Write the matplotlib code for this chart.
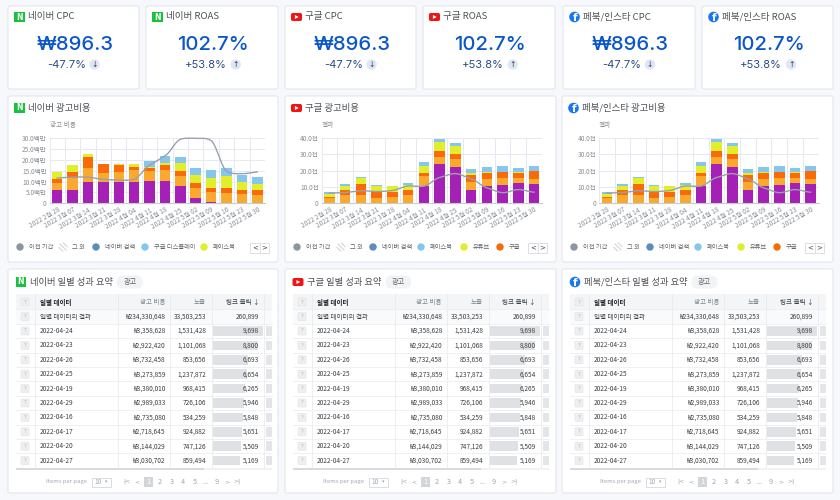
import numpy as np
import matplotlib
matplotlib.use("Agg")
import matplotlib.pyplot as plt
from matplotlib.patches import FancyBboxPatch, Rectangle, Circle, Polygon

plt.rcParams['font.family'] = ['Noto Sans CJK KR', 'DejaVu Sans']

# ---------- data ----------
weeks = ['2022 2월 28', '2022 3월 07', '2022 3월 14', '2022 3월 21', '2022 3월 28', '2022 4월 04', '2022 4월 11',
         '2022 4월 18', '2022 4월 25', '2022 5월 02', '2022 5월 09', '2022 5월 16', '2022 5월 23', '2022 5월 30']

naver_purple = [6.2, 6.2, 9.7, 9.6, 9.6, 10.0, 10.1, 10.4, 7.8, 2.6, 0.7, 0, 0, 0]
naver_orange = [3.3, 5.5, 6.5, 4.4, 4.7, 5.3, 4.7, 4.7, 4.7, 4.5, 4.6, 4.9, 4.1, 3.9]
naver_deep = [1.7, 2.8, 5.0, 4.0, 3.4, 1.6, 1.2, 2.5, 2.3, 2.4, 1.9, 2.2, 2.2, 2.2]
naver_lime = [3.2, 3.2, 1.5, 0.0, 0.3, 1.0, 0.9, 0.8, 3.5, 3.6, 4.5, 5.3, 3.7, 2.8]
naver_blue = [0, 0, 0, 0, 0, 0, 2.7, 3.3, 3.0, 3.3, 3.6, 3.6, 3.2, 3.2]
naver_prev = [11.6, 12.1, 12.0, 11.0, 10.6, 11.0, 17.5, 21.8, 29.4, 29.8, 28.8, 14.8, 13.6, 14.4]

google_purple = [0, 0, 0, 0, 0, 0, 10.8, 24.0, 22.4, 8.4, 10.7, 11.2, 12.7, 12.0]
google_orange = [3.0, 4.9, 5.1, 3.4, 3.9, 5.2, 6.0, 4.5, 5.0, 4.8, 4.3, 4.4, 3.1, 3.1]
google_deep = [0.6, 3.4, 6.8, 3.6, 3.1, 3.0, 1.8, 3.7, 3.1, 4.3, 3.7, 3.5, 3.0, 4.7]
google_lime = [1.9, 2.4, 3.5, 3.6, 3.3, 3.1, 4.4, 5.4, 4.4, 1.1, 0.3, 0.1, 0.2, 0.2]
google_blue = [1.3, 1.1, 0.7, 0.7, 0.4, 1.1, 2.0, 1.8, 2.3, 2.4, 3.3, 3.6, 2.7, 2.6]
google_prev = [6.3, 6.6, 7.7, 7.2, 7.8, 10.6, 10.5, 15.8, 18.2, 15.0, 9.5, 6.5, 8.4, 6.8]

naver_ticks = [0, 5, 10, 15, 20, 25, 30]
naver_ticklabels = ['0', '5.0백만', '10.0백만', '15.0백만', '20.0백만', '25.0백만', '30.0백만']
google_ticks = [0, 10, 20, 30, 40]
google_ticklabels = ['0', '10.0천', '20.0천', '30.0천', '40.0천']

dates = ['2022-04-24', '2022-04-23', '2022-04-26', '2022-04-25', '2022-04-19',
         '2022-04-29', '2022-04-16', '2022-04-17', '2022-04-20', '2022-04-27']
costs = [3358628, 2922420, 3732458, 3273859, 3380010, 2989033, 2735080, 2718645, 3144029, 3030702]
imps = [1531428, 1101068, 853656, 1237872, 968415, 726106, 534259, 924882, 747126, 859494]
clicks = [9698, 8800, 6693, 6654, 6265, 5946, 5848, 5651, 5509, 5169]
total_cost, total_imps, total_clicks = 234330648, 33503253, 260899

kpi_value_cpc, kpi_delta_cpc = '₩896.3', '-47.7%'
kpi_value_roas, kpi_delta_roas = '102.7%', '+53.8%'

legend_naver = ['이전 기간', '그 외', '네이버 검색', '구글 디스플레이', '페이스북']
legend_other = ['이전 기간', '그 외', '네이버 검색', '페이스북', '유튜브', '구글']

# ---------- colours ----------
PURPLE, ORANGE, DEEP, LIME, BLUE = '#a520b4', '#f8a92e', '#fb6a09', '#e0ee2c', '#85c6ee'
GRAY_LINE = '#9aa0ac'
BG = '#f7f8fb'
CARD_EDGE = '#e3e6ec'
TXT = '#4d5257'
INTER = ['Inter', 'Noto Sans CJK KR', 'DejaVu Sans']

fig = plt.figure(figsize=(8.4, 5.0), dpi=100, facecolor=BG)
px = fig.add_axes([0, 0, 1, 1], zorder=0)
px.set_xlim(0, 840)
px.set_ylim(500, 0)
px.axis('off')


def card(x0, y0, x1, y1):
    px.add_patch(FancyBboxPatch((x0, y0), x1 - x0, y1 - y0, boxstyle='round,pad=0,rounding_size=2',
                                fc='white', ec=CARD_EDGE, lw=0.8))


def icon(kind, x, y, s=1.0):
    if kind == 'naver':
        px.add_patch(Rectangle((x - 5.3 * s, y - 5.3 * s), 10.6 * s, 10.6 * s, fc='#19c23c', ec='none'))
        px.text(x, y, 'N', color='white', fontsize=5.6 * s, fontweight='bold', ha='center', va='center', family='DejaVu Sans')
    elif kind == 'google':
        px.add_patch(FancyBboxPatch((x - 5.5 * s, y - 4 * s), 11 * s, 8 * s,
                                    boxstyle=f'round,pad=0,rounding_size={1.8 * s}', fc='#f01414', ec='none'))
        px.add_patch(Polygon([(x - 1.6 * s, y - 2 * s), (x - 1.6 * s, y + 2 * s), (x + 2.2 * s, y)], fc='white', ec='none'))
    else:
        px.add_patch(Circle((x, y), 5.3 * s, fc='#1877f2', ec='none'))
        px.text(x + 0.4 * s, y + 0.8 * s, 'f', color='white', fontsize=7.5 * s, fontweight='bold', ha='center', va='center', family='DejaVu Sans')


def kpi(x0, x1, kind, name, value, delta, arrow, d_off, c_off):
    card(x0, 6, x1, 89)
    icon(kind, x0 + 11.5, 17, 1.0)
    px.text(x0 + 20, 17, name, fontsize=6.9, color=TXT, va='center', ha='left')
    cx = (x0 + x1) / 2 + 1
    px.text(cx, 45, value, fontsize=14.6, color='#0b57c9', ha='center', va='center', family=INTER, fontweight='medium')
    px.text(cx + d_off, 64.5, delta, fontsize=8.0, color='#2c4c80', ha='center', va='center', family=INTER)
    px.add_patch(Circle((cx + c_off, 64.5), 5.2, fc='#dfe6f4', ec='none'))
    px.text(cx + c_off, 64.5, arrow, fontsize=5.5, color='#33445f', ha='center', va='center', family='DejaVu Sans')


def smooth(x, y, n=16, k=0.3):
    # cubic Hermite curve through the read values, softened to limit overshoot
    x, y = np.asarray(x, float), np.asarray(y, float)
    m = np.r_[y[1] - y[0], y[2:] - y[:-2], y[-1] - y[-2]] * k
    xs, ys = [], []
    for i in range(len(x) - 1):
        t = np.linspace(0, 1, n, endpoint=False)
        h00, h10, h01, h11 = 2 * t ** 3 - 3 * t ** 2 + 1, t ** 3 - 2 * t ** 2 + t, -2 * t ** 3 + 3 * t ** 2, t ** 3 - t ** 2
        xs.extend(x[i] + t * (x[i + 1] - x[i]))
        ys.extend(h00 * y[i] + h10 * m[i] + h01 * y[i + 1] + h11 * m[i + 1])
    xs.append(x[-1])
    ys.append(y[-1])
    return xs, ys


def leg_cols(legend):
    m = {'구글 디스플레이': BLUE, '페이스북': LIME, '유튜브': LIME, '구글': DEEP}
    out = [m[n] for n in legend[3:]]
    if '유튜브' in legend:
        out[0] = BLUE
    return out


def chart(x0, x1, ax_x0, ax_x1, kind, title, ylab, series, prev, ymax, ticks, ticklabels, legend, leg_x, btn_x):
    card(x0, 96, x1, 262)
    icon(kind, x0 + 11.5, 108, 1.0)
    px.text(x0 + 20, 108, title, fontsize=6.8, color=TXT, va='center', ha='left')
    px.text(ax_x0, 125.5, ylab, fontsize=4.8, color='#8a8f96', va='center', ha='left')
    ax = fig.add_axes([ax_x0 / 840, 1 - 203.3 / 500, (ax_x1 - ax_x0) / 840, (203.3 - 138) / 500], zorder=1)
    ax.patch.set_alpha(0)
    xs = np.arange(len(weeks))
    bottom = np.zeros(len(weeks))
    for vals, col in series:
        ax.bar(xs, vals, width=0.68, bottom=bottom, color=col, zorder=2)
        bottom += np.asarray(vals)
    ax.plot(*smooth(xs, prev), color=GRAY_LINE, lw=1.0, zorder=3, clip_on=False)
    ax.set_xlim(-0.5, 13.5)
    ax.set_ylim(0, ymax)
    ax.set_yticks(ticks)
    ax.set_yticklabels(ticklabels, fontsize=4.7, color='#8a8f96')
    ax.set_xticks(xs)
    ax.set_xticklabels(weeks, fontsize=4.7, color='#8a8f96', rotation=30, ha='right', rotation_mode='anchor')
    ax.tick_params(axis='both', length=0, pad=2)
    ax.set_xticks(np.arange(-0.5, 14), minor=True)
    ax.tick_params(axis='x', which='minor', length=0)
    ax.grid(True, which='minor', axis='x', color='#e6e9f2', lw=0.7, zorder=0)
    ax.grid(True, which='major', axis='y', color='#e6e9f2', lw=0.7, zorder=0)
    for s in ['top', 'right', 'left']:
        ax.spines[s].set_visible(False)
    ax.spines['bottom'].set_color('#c5cad4')
    ax.spines['bottom'].set_linewidth(0.8)
    cols = ['#8d95a3', None, '#5b8db8'] + leg_cols(legend)
    for name, lx, col in zip(legend, leg_x, cols):
        if col is None:
            for d, a in ((-2.2, 1.8), (0, 3), (2.2, 1.8)):
                px.plot([lx - a + d, lx + a + d], [247 - a - d, 247 + a - d], color='#d6d9de', lw=0.9)
        else:
            px.add_patch(Circle((lx, 247), 3.7, fc=col, ec='none'))
        px.text(lx + 9, 246.8, name, fontsize=4.5, color='#5f6368', va='center', ha='left')
    for i, s in enumerate('<>'):
        px.add_patch(Rectangle((btn_x + i * 9.5, 243), 9.5, 9.5, fc='white', ec='#dcdfe4', lw=0.7))
        px.text(btn_x + 4.75 + i * 9.5, 247.6, s, fontsize=5, color='#444', ha='center', va='center', family='DejaVu Sans')


def table(x0, x1, dx, kind, title):
    card(x0, 269, x1, 493)
    icon(kind, dx + 21, 282, 1.0)
    t = px.text(dx + 30, 282, title, fontsize=6.7, color=TXT, va='center', ha='left')
    tw = t.get_window_extent(fig.canvas.get_renderer()).x1
    px.add_patch(FancyBboxPatch((tw + 4, 275.5), 26, 13, boxstyle='round,pad=0,rounding_size=6.5', fc='#f1f3f4', ec='none'))
    px.text(tw + 17, 282, '광고', fontsize=5.2, color='#5f6368', ha='center', va='center')
    L, R = dx + 16, dx + 272
    px.add_patch(Rectangle((L, 294), R - L, 15, fc='#f4f5f7', ec='none'))
    px.add_patch(Rectangle((L, 309), R - L, 14.5, fc='#f9fafb', ec='none'))
    fs = 4.7
    ys = [302, 316.5] + [331 + 14.4 * i for i in range(10)]
    for y in ys[:-1]:
        px.plot([L, R], [y + 7.2, y + 7.2], color='#eceef1', lw=0.6)
    for cxl in [35, 117.5, 169.5, 211.5, 263.5]:
        px.plot([dx + cxl, dx + cxl], [294, 468], color='#e9ebee', lw=0.6)
    for y in ys:
        px.add_patch(FancyBboxPatch((dx + 21, y - 4), 8, 8, boxstyle='round,pad=0,rounding_size=1', fc='#eeeff1', ec='#dfe1e4', lw=0.4))
        px.text(dx + 25, y, '?', fontsize=4, color='#b0b3b8', ha='center', va='center')
    px.text(dx + 40, ys[0], '일별 데이터', fontsize=fs, color='#202124', fontweight='bold', va='center')
    px.text(dx + 165, ys[0], '광고 비용', fontsize=fs, color='#80868b', va='center', ha='right')
    px.text(dx + 206, ys[0], '노출', fontsize=fs, color='#80868b', va='center', ha='right')
    px.text(dx + 259, ys[0], '링크 클릭 ↓', fontsize=fs, color='#3c4043', va='center', ha='right')
    px.text(dx + 40, ys[1], '일별 데이터의 결과', fontsize=fs, color='#3c4043', va='center')
    px.text(dx + 165, ys[1], f'₩{total_cost:,}', fontsize=fs, color='#3c4043', va='center', ha='right')
    px.text(dx + 206, ys[1], f'{total_imps:,}', fontsize=fs, color='#3c4043', va='center', ha='right')
    px.text(dx + 259, ys[1], f'{total_clicks:,}', fontsize=fs, color='#3c4043', va='center', ha='right')
    for y, d, c, im, cl in zip(ys[2:], dates, costs, imps, clicks):
        px.add_patch(Rectangle((dx + 213, y - 4.8), 50 * cl / max(clicks), 9.6, fc='#dfe1e5', ec='none'))
        px.add_patch(Rectangle((dx + 266, y - 4.8), 6, 9.6, fc='#e3e5e8', ec='none'))
        px.text(dx + 40, y, d, fontsize=fs, color='#3c4043', va='center')
        px.text(dx + 165, y, f'₩{c:,}', fontsize=fs, color='#3c4043', va='center', ha='right')
        px.text(dx + 206, y, f'{im:,}', fontsize=fs, color='#3c4043', va='center', ha='right')
        px.text(dx + 259, y, f'{cl:,}', fontsize=fs, color='#3c4043', va='center', ha='right')
    px.add_patch(Rectangle((L, 468), R - L, 2.2, fc='#f1f2f4', ec='none'))
    px.add_patch(Rectangle((L, 468), 188, 2.2, fc='#d7dade', ec='none'))
    py = 482
    px.text(dx + 46, py, 'Items per page', fontsize=4.3, color='#a5a9af', va='center')
    px.add_patch(Rectangle((dx + 91.5, py - 4.5), 19, 9, fc='white', ec='#d5d8dc', lw=0.6))
    px.text(dx + 98, py, '10', fontsize=4.6, color='#a5a9af', va='center', ha='center')
    px.text(dx + 106, py, '▾', fontsize=3.5, color='#a5a9af', va='center', ha='center', family='DejaVu Sans')
    px.add_patch(Rectangle((dx + 144, py - 5), 9, 10, fc='#d2d5d9', ec='none'))
    pages = [(127, '|<'), (137, '<'), (148.5, '1'), (160, '2'), (171.5, '3'), (183, '4'), (195, '5'),
             (205.5, '...'), (216.5, '9'), (227, '>'), (237, '>|')]
    for xp, s in pages:
        arrow = s[0] in '|<>'
        px.text(dx + xp, py - 0.3, s, fontsize=4.4 if arrow else 5.2, color='white' if s == '1' else '#a0a4aa',
                ha='center', va='center', family='DejaVu Sans' if arrow else 'Noto Sans CJK KR')


kpi(8, 139, 'naver', '네이버 CPC', kpi_value_cpc, kpi_delta_cpc, '↓', -8, 20)
kpi(146, 278, 'naver', '네이버 ROAS', kpi_value_roas, kpi_delta_roas, '↑', -7.5, 22.7)
kpi(285, 416, 'google', '구글 CPC', kpi_value_cpc, kpi_delta_cpc, '↓', -8, 20)
kpi(423, 555, 'google', '구글 ROAS', kpi_value_roas, kpi_delta_roas, '↑', -7.5, 22.7)
kpi(563, 695, 'fb', '페북/인스타 CPC', kpi_value_cpc, kpi_delta_cpc, '↓', -8, 20)
kpi(702, 833, 'fb', '페북/인스타 ROAS', kpi_value_roas, kpi_delta_roas, '↑', -7.5, 22.7)

naver_series = [(naver_purple, PURPLE), (naver_orange, ORANGE), (naver_deep, DEEP), (naver_lime, LIME), (naver_blue, BLUE)]
google_series = [(google_purple, PURPLE), (google_orange, ORANGE), (google_deep, DEEP), (google_lime, LIME), (google_blue, BLUE)]

chart(8, 278, 49.5, 265, 'naver', '네이버 광고비용', '광고 비용', naver_series, naver_prev, 30, naver_ticks, naver_ticklabels,
      legend_naver, [20, 63, 96, 145, 204], 250)
chart(285, 556, 321.5, 542, 'google', '구글 광고비용', '결과', google_series, google_prev, 40, google_ticks, google_ticklabels,
      legend_other, [297, 341, 373, 421, 464, 500], 528)
chart(562, 833, 599, 818.5, 'fb', '페북/인스타 광고비용', '결과', google_series, google_prev, 40, google_ticks, google_ticklabels,
      legend_other, [574, 618, 650, 698, 741, 777], 805)

table(8, 278, 0, 'naver', '네이버 일별 성과 요약')
table(285, 556, 277, 'google', '구글 일별 성과 요약')
table(562, 833, 554, 'fb', '페북/인스타 일별 성과 요약')

fig.savefig('out.png', dpi=100, facecolor=BG)
